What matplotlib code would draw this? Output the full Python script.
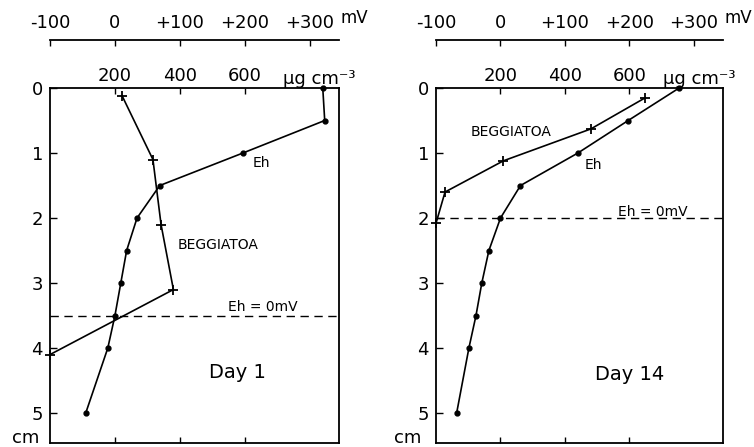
import matplotlib
matplotlib.use('Agg')
from matplotlib import pyplot as plt

plt.rcParams['font.family'] = ['DejaVu Sans']

# depth profiles (cm) of redox potential and Beggiatoa biomass
eh_depth = [0, 0.5, 1.0, 1.5, 2.0, 2.5, 3.0, 3.5, 4.0, 5.0]
eh_day1 = [320, 323, 197, 69, 34, 18, 9, 0, -11, -45]          # mV
eh_day14 = [277, 198, 120, 31, 0, -18, -29, -38, -49, -68]     # mV

beg_depth_day1 = [0.12, 1.1, 2.1, 3.1, 4.1]
beg_day1 = [222, 317, 342, 380, 0]                              # ug cm-3
beg_depth_day14 = [0.15, 0.63, 1.12, 1.6, 2.08]
beg_day14 = [649, 480, 209, 28, 0]

eh_zero_depth = [3.5, 2.0]
day_labels = ['Day 1', 'Day 14']

ug_ticks = [200, 400, 600]
mv_ticks = [-100, 0, 100, 200, 300]
mv_ticklabels = ['-100', '0', '+100', '+200', '+300']
depth_ticks = [0, 1, 2, 3, 4, 5]

UG_LIM = (0, 890)
MV_LIM = (-100, 345)
DEPTH_LIM = (5.46, 0)

W, H = 754, 447
fig = plt.figure(figsize=(W / 100, H / 100), dpi=100)

panels = [
    dict(x0=50, x1=339, eh=eh_day1, bd=beg_depth_day1, bv=beg_day1,
         zero=eh_zero_depth[0], day=day_labels[0],
         eh_lab=(652, 1.15), beg_lab=(517, 2.42), zero_lab=(655, 3.37), day_lab=(578, 4.38),
         cm_x=12, unit_x=283),
    dict(x0=436, x1=723, eh=eh_day14, bd=beg_depth_day14, bv=beg_day14,
         zero=eh_zero_depth[1], day=day_labels[1],
         eh_lab=(489, 1.18), beg_lab=(234, 0.68), zero_lab=(671, 1.91), day_lab=(600, 4.4),
         cm_x=394, unit_x=663),
]

top_px, bot_px, mv_px = 88, 443, 40
lw = 1.2

for p in panels:
    left = p['x0'] / W
    width = (p['x1'] - p['x0']) / W
    ax = fig.add_axes([left, (H - bot_px) / H, width, (bot_px - top_px) / H])

    # Eh profile is drawn on a twin x axis in mV
    tw = ax.twiny()
    tw.set_xlim(*MV_LIM)
    tw.set_ylim(*DEPTH_LIM)
    tw.axis('off')

    ax.set_xlim(*UG_LIM)
    ax.set_ylim(*DEPTH_LIM)
    for s in ax.spines.values():
        s.set_linewidth(1.3)

    ax.set_xticks(ug_ticks)
    ax.set_xticklabels([str(t) for t in ug_ticks])
    ax.tick_params(axis='x', which='both', direction='in', length=4, width=1,
                   labelsize=13, pad=2, bottom=True, top=True,
                   labeltop=True, labelbottom=False)
    ax.set_yticks(depth_ticks)
    ax.tick_params(axis='y', direction='in', length=5, width=1, labelsize=13, pad=5)

    # Beggiatoa profile
    ax.plot(p['bv'], p['bd'], color='black', lw=lw, marker='+', ms=7, mew=1.3,
            clip_on=False, zorder=3)

    tw.plot(p['eh'], eh_depth, color='black', lw=lw, marker='o', ms=3.5,
            clip_on=False, zorder=3)

    ax.axhline(p['zero'], color='black', lw=1, ls=(0, (6, 4)))

    ax.text(*p['eh_lab'], 'Eh', fontsize=10, ha='center', va='center')
    ax.text(*p['beg_lab'], 'BEGGIATOA', fontsize=10, ha='center', va='center')
    ax.text(*p['zero_lab'], 'Eh = 0mV', fontsize=10, ha='center', va='center')
    ax.text(*p['day_lab'], p['day'], fontsize=14, ha='center', va='center')

    # unit labels
    fig.text(p['unit_x'] / W, (H - 84) / H, 'µg cm⁻³', fontsize=13,
             ha='left', va='baseline')
    fig.text(p['cm_x'] / W, (H - 443) / H, 'cm', fontsize=13, ha='left', va='baseline')

    # separate mV scale above the panel
    mv = fig.add_axes([left, (H - mv_px) / H, width, 0.0001])
    mv.set_xlim(*MV_LIM)
    mv.patch.set_visible(False)
    for k in ('left', 'right', 'bottom'):
        mv.spines[k].set_visible(False)
    mv.spines['top'].set_linewidth(1.3)
    mv.set_yticks([])
    mv.xaxis.tick_top()
    mv.set_xticks(mv_ticks)
    mv.set_xticklabels(mv_ticklabels)
    mv.tick_params(axis='x', direction='in', length=4, width=1, labelsize=13, pad=6)
    fig.text((p['x1'] + 2) / W, (H - 23) / H, 'mV', fontsize=12, ha='left', va='baseline')

fig.savefig('out.png', dpi=100)
